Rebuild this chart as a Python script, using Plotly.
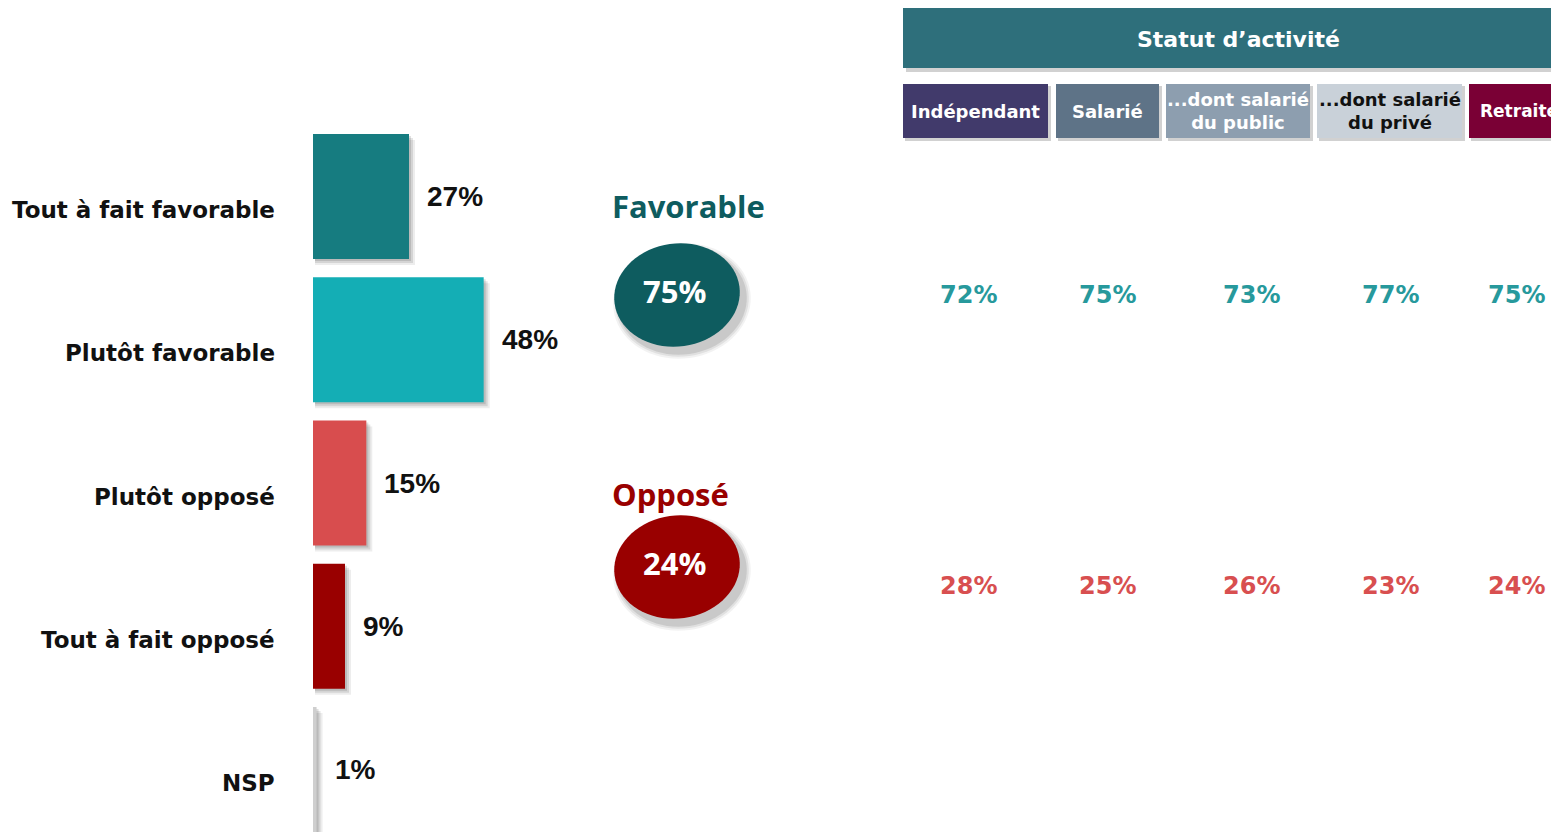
import math
import plotly.graph_objects as go

# page is 1559x832; the html body has an 8px margin, so the figure is sized/offset to fit
PAGE_W, PAGE_H = 1559, 832
OX, OY = 8, 8
W, H = PAGE_W - OX, PAGE_H - OY

# ---------------- data ----------------
categories = ["Tout à fait favorable", "Plutôt favorable", "Plutôt opposé", "Tout à fait opposé", "NSP"]
values = [27, 48, 15, 9, 1]
bar_colors = ["#167C80", "#14AEB5", "#D84D4E", "#990000", "#CFCFCF"]

summary_labels = ["Favorable", "Opposé"]
summary_values = [75, 24]
summary_colors = ["#0E5C5F", "#990000"]

group_title = "Statut d’activité"
columns = ["Indépendant", "Salarié", "...dont salarié<br>du public", "...dont salarié<br>du privé", "Retraité"]
column_colors = ["#413A6B", "#5E7387", "#8D9EAF", "#C9D1D9", "#7A0035"]
column_text_colors = ["white", "white", "white", "#111111", "white"]
fav_by_col = [72, 75, 73, 77, 75]
opp_by_col = [28, 25, 26, 23, 24]

# ---------------- layout helpers (page pixels -> paper) ----------------
def px(x):
    return (x - OX) / W

def py(y):
    return 1 - (y - OY) / H

X0 = 313            # page pixel of value 0
PPU = 96 / 27       # pixels per percent
XMAX = 60
Y_TOP_CENTER = 196.5
PITCH = 143.25
BAR_H = 125
y_top_px = Y_TOP_CENTER - PITCH / 2
y_range_bottom = (OY + H - Y_TOP_CENTER) / PITCH

fig = go.Figure()

ypos = list(range(len(categories)))
bw = BAR_H / PITCH

# soft shadows
for d, op in [(6, 0.07), (4, 0.10), (2, 0.12)]:
    fig.add_trace(go.Bar(
        x=[v + d / PPU - 2 / PPU for v in values], y=ypos, base=2 / PPU, orientation="h",
        width=bw, offset=-bw / 2 + d / PITCH,
        marker=dict(color=f"rgba(0,0,0,{op})", line=dict(width=0)),
        hoverinfo="skip", showlegend=False))

fig.add_trace(go.Bar(
    x=values, y=ypos, orientation="h", width=bw, offset=-bw / 2,
    marker=dict(color=bar_colors, line=dict(width=0)),
    showlegend=False, hovertext=categories))

fig.update_layout(
    width=W, height=H,
    margin=dict(l=0, r=0, t=0, b=0),
    paper_bgcolor="white", plot_bgcolor="white",
    barmode="overlay",
    xaxis=dict(domain=[px(X0), px(X0 + XMAX * PPU)], range=[0, XMAX],
               visible=False, fixedrange=True),
    yaxis=dict(domain=[0, py(y_top_px)], range=[y_range_bottom, -0.5],
               visible=False, fixedrange=True),
)

annotations = []
shapes = []

# category labels
for i, c in enumerate(categories):
    annotations.append(dict(
        x=px(277), xref="paper", y=i, yref="y", yshift=-13.5,
        text=f"<b>{c}</b>", showarrow=False, xanchor="right", yanchor="middle",
        font=dict(family="DejaVu Sans", size=23, color="#111111")))

# value labels
for i, v in enumerate(values):
    annotations.append(dict(
        x=v, xref="x", y=i, yref="y", xshift=16,
        text=f"<b>{v}%</b>", showarrow=False, xanchor="left", yanchor="middle",
        font=dict(family="Liberation Sans", size=28, color="#111111")))

# ellipse helper
def ellipse_path(cx, cy, rx, ry, rot_deg, n=72):
    a = math.radians(rot_deg)
    pts = []
    for k in range(n):
        t = 2 * math.pi * k / n
        ex, ey = rx * math.cos(t), ry * math.sin(t)
        x = cx + ex * math.cos(a) - ey * math.sin(a)
        y = cy + ex * math.sin(a) + ey * math.cos(a)
        pts.append(f"{px(x):.5f},{py(y):.5f}")
    return "M " + " L ".join(pts) + " Z"

summary_title_pos = [(688, 206), (670, 494)]
ellipse_centers = [(677, 295), (677, 567)]
for lab, val, col, (tx, ty), (ex, ey) in zip(summary_labels, summary_values, summary_colors,
                                              summary_title_pos, ellipse_centers):
    annotations.append(dict(
        x=px(tx), y=py(ty), xref="paper", yref="paper", text=f"<b>{lab}</b>",
        showarrow=False, xanchor="center", yanchor="middle",
        font=dict(family="Open Sans", size=31, color=col)))
    for grow, op in [(6, 0.05), (4, 0.07), (2, 0.10)]:
        shapes.append(dict(type="path", xref="paper", yref="paper",
                           path=ellipse_path(ex + 5, ey + 6, 63 + grow, 51.5 + grow, -8),
                           fillcolor=f"rgba(0,0,0,{op})", line=dict(width=0), layer="below"))
    shapes.append(dict(type="path", xref="paper", yref="paper",
                       path=ellipse_path(ex, ey, 63, 51.5, -8),
                       fillcolor=col, line=dict(width=0), layer="above"))
    annotations.append(dict(
        x=px(ex - 3), y=py(ey - 4), xref="paper", yref="paper", text=f"<b>{val}%</b>",
        showarrow=False, xanchor="center", yanchor="middle",
        font=dict(family="Open Sans", size=31, color="white")))

# group title band
def rect(x0, y0, x1, y1, color, layer="above"):
    return dict(type="rect", xref="paper", yref="paper", x0=px(x0), x1=px(x1),
                y0=py(y1), y1=py(y0), fillcolor=color, line=dict(width=0), layer=layer)

shapes.append(rect(906, 11, 1600, 72, "rgba(0,0,0,0.18)", "below"))
shapes.append(rect(903, 8, 1600, 68, "#2E6F7B"))
annotations.append(dict(
    x=px(1238), y=py(39), xref="paper", yref="paper", text=f"<b>{group_title}</b>",
    showarrow=False, xanchor="center", yanchor="middle",
    font=dict(family="DejaVu Sans", size=22, color="white")))

# column headers
col_boxes = [(903, 1048), (1056, 1159), (1166, 1310), (1317, 1462), (1469, 1614)]
for (x0, x1), name, c, tc in zip(col_boxes, columns, column_colors, column_text_colors):
    shapes.append(rect(x0 + 2, 86, x1 + 3, 141, "rgba(0,0,0,0.18)", "below"))
    shapes.append(rect(x0, 84, x1, 138, c))
header_text_x = [975.5, 1107.5, 1238, 1389.5, 1478]
for i, (name, tc, hx) in enumerate(zip(columns, column_text_colors, header_text_x)):
    last = i == len(columns) - 1
    annotations.append(dict(
        x=px(hx), y=py(111), xref="paper", yref="paper", text=f"<b>{name}</b>",
        showarrow=False, xanchor="left" if last else "center", yanchor="middle", align="center",
        font=dict(family="DejaVu Sans", size=17 if last else 18, color=tc)))

# column values
value_x = [968, 1107, 1251, 1390, 1516]
for vx, fv, ov in zip(value_x, fav_by_col, opp_by_col):
    annotations.append(dict(
        x=px(vx), y=py(295), xref="paper", yref="paper", text=f"<b>{fv}%</b>",
        showarrow=False, xanchor="center", yanchor="middle",
        font=dict(family="DejaVu Sans", size=24, color="#27999C")))
    annotations.append(dict(
        x=px(vx), y=py(586), xref="paper", yref="paper", text=f"<b>{ov}%</b>",
        showarrow=False, xanchor="center", yanchor="middle",
        font=dict(family="DejaVu Sans", size=24, color="#D84F50")))

fig.update_layout(annotations=annotations, shapes=shapes)

fig.write_html("out.html", config={"displayModeBar": False})
